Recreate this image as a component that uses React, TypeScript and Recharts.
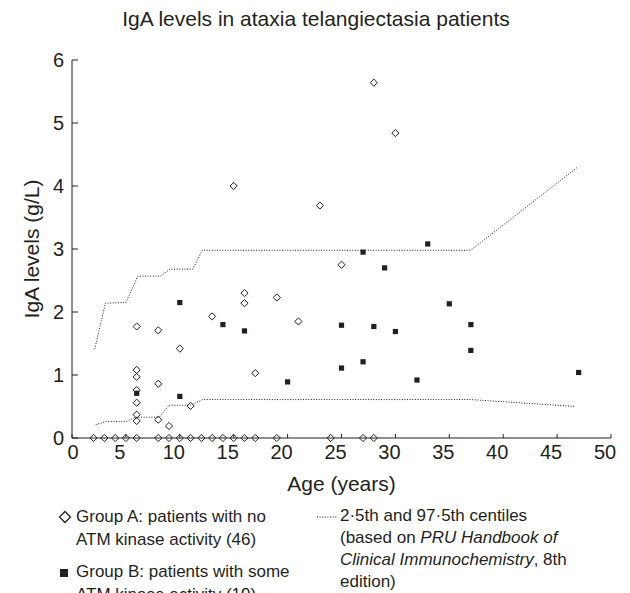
import React from 'react';
import { ScatterChart, Scatter, XAxis, YAxis } from 'recharts';

// [age (years), IgA (g/L)]
const groupA: [number, number][] = [
  [2, 0], [3, 0], [4, 0], [5, 0], [6, 0], [8, 0], [9, 0], [10, 0], [11, 0], [12, 0],
  [13, 0], [14, 0], [15, 0], [16, 0], [17, 0], [19, 0], [24, 0], [27, 0], [28, 0],
  [6, 1.77], [6, 1.08], [6, 0.97], [6, 0.76], [6, 0.56], [6, 0.37], [6, 0.27],
  [8, 1.71], [8, 0.86], [8, 0.29], [9, 0.19], [10, 1.42], [11, 0.51],
  [13, 1.93], [15, 4.0], [16, 2.3], [16, 2.14], [17, 1.03], [19, 2.23], [21, 1.85],
  [23, 3.69], [25, 2.75], [28, 5.64], [30, 4.84],
];

const groupB: [number, number][] = [
  [6, 0.71], [10, 2.15], [10, 0.66], [14, 1.8], [16, 1.7], [20, 0.89], [25, 1.79],
  [25, 1.11], [27, 2.95], [27, 1.21], [28, 1.77], [29, 2.7], [30, 1.69], [32, 0.92],
  [33, 3.08], [35, 2.13], [37, 1.8], [37, 1.39], [47, 1.04],
];

const upperCentile: [number, number][] = [
  [2.1, 1.41], [3.1, 2.14], [5.0, 2.15], [6.1, 2.57], [8.2, 2.57], [9.1, 2.68],
  [11.2, 2.68], [12.1, 2.98], [37, 2.98], [46.9, 4.3],
];

const lowerCentile: [number, number][] = [
  [2.2, 0.21], [3.1, 0.26], [5.0, 0.26], [5.9, 0.33], [8.1, 0.33], [9.0, 0.52],
  [11.0, 0.52], [12.1, 0.61], [37, 0.61], [46.7, 0.5],
];

const xTicks = [0, 5, 10, 15, 20, 25, 30, 35, 40, 45, 50];
const yTicks = [0, 1, 2, 3, 4, 5, 6];

const toPoints = (rows: [number, number][]) => rows.map(([age, iga]) => ({ age, iga }));

const INK = '#231f20';
const FONT = '"Liberation Sans", Arial, Helvetica, sans-serif';

const Diamond = (props: any) => {
  const { cx, cy } = props;
  const r = 3.6;
  return (
    <path
      d={`M${cx},${cy - r}L${cx + r},${cy}L${cx},${cy + r}L${cx - r},${cy}Z`}
      fill="none"
      stroke={INK}
      strokeWidth={1}
    />
  );
};

const Square = (props: any) => {
  const { cx, cy } = props;
  const r = 2.6;
  return <rect x={cx - r} y={cy - r} width={r * 2} height={r * 2} fill={INK} />;
};

const NoDot = () => <g />;

// printed labels sit slightly left of their ticks in the original
const XTick = (props: any) => {
  const { x, y, payload } = props;
  return (
    <text x={payload.value === 0 ? x + 1 : x - 6} y={y} dy="0.71em" textAnchor="middle" fill={INK} fontSize={20}>
      {payload.value}
    </text>
  );
};

const App: React.FC = () => {
  return (
    <div style={{ position: 'absolute', left: 0, top: 0, width: 630, height: 593, overflow: 'hidden', background: '#fff', fontFamily: FONT, color: INK }}>
      <div style={{ position: 'absolute', top: 7, left: 0, width: 632, textAlign: 'center', fontSize: 21 }}>
        IgA levels in ataxia telangiectasia patients
      </div>
      <ScatterChart width={630} height={593} margin={{ top: 60, right: 19, left: 22, bottom: 95 }}>
        <XAxis
          type="number"
          dataKey="age"
          domain={[0, 50]}
          ticks={xTicks}
          allowDataOverflow
          stroke={INK}
          tickSize={-4}
          tickMargin={11}
          tick={<XTick />}
          height={60}
          label={{
            content: ({ viewBox }: any) => (
              <text x={viewBox.x + viewBox.width / 2} y={viewBox.y + 45} textAnchor="middle" dominantBaseline="central" fontSize={21} fill={INK}>
                Age (years)
              </text>
            ),
          }}
        />
        <YAxis
          type="number"
          dataKey="iga"
          domain={[0, 6]}
          ticks={yTicks}
          width={50}
          stroke={INK}
          tickSize={-6}
          tickMargin={14}
          tick={{ fill: INK, fontSize: 20 }}
          label={{
            content: ({ viewBox }: any) => (
              <text
                x={31}
                y={viewBox.y + viewBox.height / 2}
                transform={`rotate(-90 31 ${viewBox.y + viewBox.height / 2})`}
                textAnchor="middle"
                dominantBaseline="central"
                fontSize={21}
                fill={INK}
              >
                IgA levels (g/L)
              </text>
            ),
          }}
        />
        <Scatter
          name="2·5th centile"
          data={toPoints(lowerCentile)}
          line={{ stroke: INK, strokeWidth: 1, strokeDasharray: '1 1.6' }}
          lineType="joint"
          shape={<NoDot />}
          isAnimationActive={false}
        />
        <Scatter
          name="97·5th centile"
          data={toPoints(upperCentile)}
          line={{ stroke: INK, strokeWidth: 1, strokeDasharray: '1 1.6' }}
          lineType="joint"
          shape={<NoDot />}
          isAnimationActive={false}
        />
        <Scatter name="Group A" data={toPoints(groupA)} shape={<Diamond />} isAnimationActive={false} />
        <Scatter name="Group B" data={toPoints(groupB)} shape={<Square />} isAnimationActive={false} />
      </ScatterChart>

      <div style={{ position: 'absolute', left: 56, top: 505, fontSize: 17, lineHeight: '23px' }}>
        <div style={{ position: 'relative', paddingLeft: 20 }}>
          <svg width={14} height={14} style={{ position: 'absolute', left: 2, top: 5 }}>
            <path d="M7,1.5L12.5,7L7,12.5L1.5,7Z" fill="none" stroke={INK} strokeWidth={1.3} />
          </svg>
          <div>Group A: patients with no</div>
          <div>ATM kinase activity (46)</div>
        </div>
        <div style={{ position: 'relative', paddingLeft: 20, marginTop: 9 }}>
          <svg width={14} height={14} style={{ position: 'absolute', left: 3, top: 7 }}>
            <rect x={1} y={2} width={8} height={8} fill={INK} />
          </svg>
          <div>Group B: patients with some</div>
          <div>ATM kinase activity (19)</div>
        </div>
      </div>

      <div style={{ position: 'absolute', left: 317, top: 505, fontSize: 17, lineHeight: '22px' }}>
        <div style={{ position: 'relative', paddingLeft: 23 }}>
          <svg width={22} height={14} style={{ position: 'absolute', left: 0, top: 5 }}>
            <line x1={0} y1={7} x2={21} y2={7} stroke={INK} strokeWidth={1} strokeDasharray="1 1.6" />
          </svg>
          <div>2·5th and 97·5th centiles</div>
          <div>(based on <i>PRU Handbook of</i></div>
          <div><i>Clinical Immunochemistry</i>, 8th</div>
          <div>edition)</div>
        </div>
      </div>
    </div>
  );
};

export default App;
